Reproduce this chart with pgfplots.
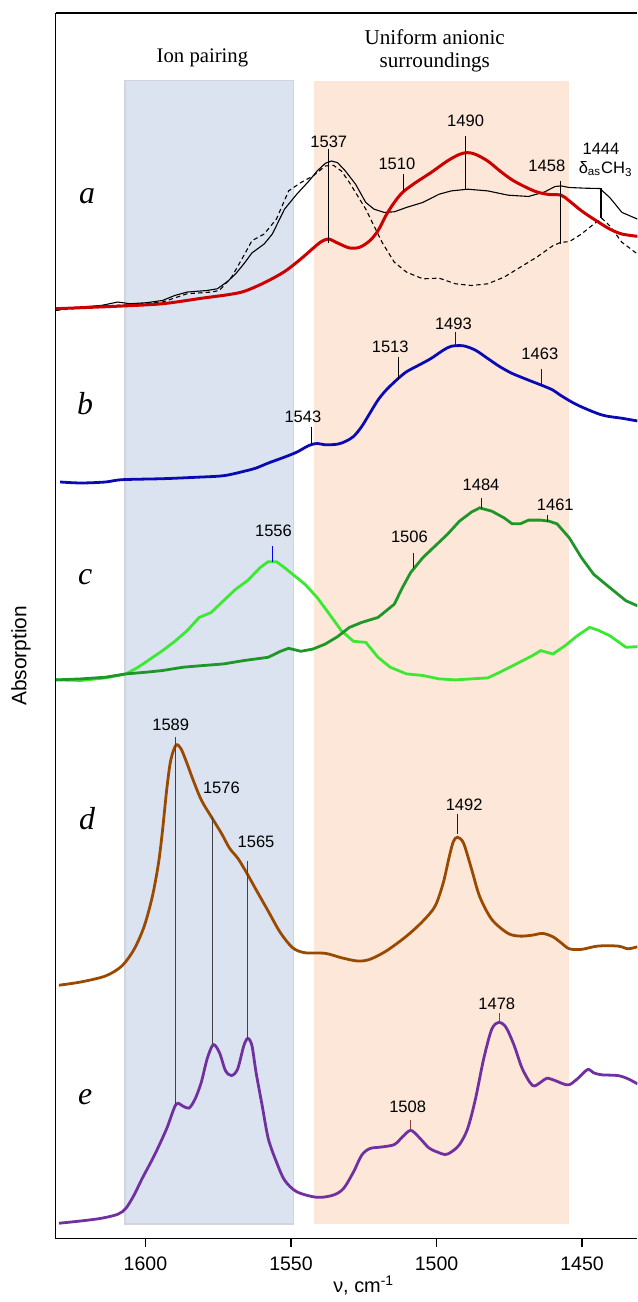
\documentclass[border=0pt]{standalone}
\usepackage{fontspec}
\setmainfont{Liberation Sans}
\newfontfamily\serif{Liberation Serif}
\usepackage{pgfplots}
\pgfplotsset{compat=1.18}

\definecolor{boxblue}{RGB}{218,227,239}
\definecolor{boxblueedge}{RGB}{210,214,220}
\definecolor{boxorange}{RGB}{252,231,217}
\definecolor{cred}{RGB}{204,0,0}
\definecolor{cblue}{RGB}{10,10,180}
\definecolor{clgreen}{RGB}{60,232,50}
\definecolor{cdgreen}{RGB}{30,150,40}
\definecolor{cbrown}{RGB}{154,74,0}
\definecolor{cpurple}{RGB}{112,48,160}
\definecolor{tickred}{RGB}{140,64,64}

\newcommand\pl{\fontsize{8.3}{9}\selectfont}
\newcommand\curvelbl{\serif\itshape\fontsize{16}{18}\selectfont}

\begin{document}
\begin{tikzpicture}
\begin{axis}[
    scale only axis,
    width=292pt, height=615.5pt,
    x dir=reverse,
    xmin=1431, xmax=1630.8,
    ymin=58, ymax=1289,
    axis x line*=bottom, axis y line*=left,
    axis line style={line width=0.6pt},
    xtick={1600,1550,1500,1450}, ytick=\empty,
    tick align=outside, major tick length=4pt,
    tick style={line width=0.6pt, black},
    ticklabel style={font=\fontsize{9.8}{11}\selectfont},
    xticklabel style={yshift=-1.5pt},
    /pgf/number format/assume math mode=true,
    /pgf/number format/1000 sep={},
    clip mode=individual,
]
% shaded regions
\addplot[fill=boxblue, draw=boxblueedge, line width=0.6pt] coordinates {
(1607,73) (1549,73) (1549,1221) (1607,1221)} --cycle;
\addplot[fill=boxorange, draw=none] coordinates {
(1542.2,73) (1454.4,73) (1454.4,1221) (1542.2,1221)} --cycle;

% ---- a ----
\addplot[black, line width=0.55pt, dashed, dash pattern=on 2.2pt off 1.6pt] coordinates {
(1630.7,990.3) (1615.1,994.7) (1605.3,996) (1594.1,998.7) (1585.7,1007)
(1577.4,1008.7) (1574.6,1010.3) (1570.4,1023.7) (1566.2,1045.3) (1563.4,1060.3)
(1559.2,1067) (1555.0,1082) (1550.8,1110.3) (1546.6,1118.7) (1542.4,1125.3)
(1538.2,1135.3) (1535.4,1136) (1532.7,1130.3) (1529.9,1118.7) (1527.1,1105.3)
(1524.3,1092) (1521.5,1075.3) (1518.7,1058.7) (1514.5,1038.7) (1510.3,1028.7)
(1504.7,1022) (1499.1,1022.7) (1493.5,1017) (1487.9,1015.3) (1482.4,1017)
(1476.8,1023.7) (1471.2,1033.7) (1465.6,1043.7) (1460.0,1055.3) (1457.2,1058.7)
(1454.4,1059.3) (1450.2,1067) (1446.0,1077) (1443.2,1082.7) (1440.5,1075.3)
(1436.3,1058.7) (1431.0,1047)};
\addplot[black, line width=0.55pt] coordinates {
(1630.7,992) (1622.1,993.7) (1615.1,995.3) (1609.5,998.7) (1605.3,997)
(1599.7,998) (1594.1,1000.3) (1589.9,1005.3) (1585.7,1008.7) (1578.8,1010.3)
(1575.3,1012) (1571.8,1019.3) (1569.0,1027) (1566.2,1037) (1563.4,1048)
(1559.2,1057) (1556.4,1067) (1552.2,1092) (1548.0,1107) (1543.8,1120.3)
(1541.0,1130.3) (1538.2,1138) (1536.1,1140.3) (1534.0,1138.7) (1531.3,1130.3)
(1527.8,1117) (1524.3,1098.7) (1521.5,1092) (1518.0,1088.7) (1514.5,1089.3)
(1510.3,1093.7) (1504.7,1098.7) (1499.1,1107) (1494.9,1110.3) (1489.3,1112)
(1482.4,1110.3) (1475.4,1106) (1468.4,1104.7) (1462.8,1109.3) (1459.3,1114.7)
(1457.2,1115.3) (1454.4,1113.7) (1448.8,1113) (1443.9,1112.7) (1440.5,1103.7)
(1436.3,1088.7) (1431.0,1082)};
\addplot[cred, line width=1.5pt, smooth] coordinates {
(1630.7,992) (1622.1,993) (1608.1,994.7) (1594.1,997) (1580.2,1002.7)
(1571.8,1006) (1566.2,1009.3) (1559.2,1018) (1552.2,1029.3) (1546.6,1042)
(1542.4,1052.7) (1539.6,1059.3) (1537.1,1062) (1534.0,1058) (1529.9,1053)
(1526.4,1053.7) (1522.9,1060.3) (1520.1,1070.3) (1517.3,1086) (1514.5,1098.7)
(1511.7,1108.7) (1507.5,1118) (1501.9,1128.7) (1496.3,1140.3) (1492.1,1147)
(1489.3,1148.7) (1486.6,1147) (1482.4,1140.3) (1478.2,1130.3) (1474.0,1121.3)
(1469.8,1114.7) (1465.6,1109.3) (1461.4,1106.7) (1457.2,1106) (1454.4,1100.3)
(1450.2,1090.3) (1446.0,1082) (1440.5,1072) (1436.3,1067) (1431.0,1064.7)};

% ---- b ----
\addplot[cblue, line width=1.4pt, smooth] coordinates {
(1629.3,818) (1622.1,817) (1613.7,818) (1608.1,820.3) (1594.1,821.3)
(1582.9,822.7) (1573.2,824.3) (1566.2,828.7) (1562.0,832) (1557.8,837)
(1552.2,843) (1548.0,848) (1543.8,854.7) (1541.0,856.7) (1538.2,855.3)
(1534.0,856) (1531.3,858.7) (1528.5,863.7) (1525.7,873.7) (1522.9,887)
(1520.1,900.3) (1517.3,910.3) (1513.4,921.3) (1510.3,928.7) (1506.1,935.3)
(1501.9,942) (1497.7,950.3) (1494.9,954.3) (1490.7,954.7) (1486.6,950.3)
(1482.4,942) (1478.2,933.7) (1474.0,927) (1468.4,920.3) (1463.5,914.7)
(1460.0,910.3) (1457.2,904.7) (1451.6,895.3) (1443.2,885.3) (1436.3,882)
(1431.0,879.3)};

% ---- c ----
\addplot[clgreen, line width=1.4pt] coordinates {
(1630.7,619.3) (1622.1,618.7) (1613.7,621.3) (1606.7,625.3) (1602.5,632)
(1598.3,640.3) (1594.1,648.7) (1589.9,658) (1585.7,668.7) (1581.5,682)
(1577.4,687) (1573.2,698.7) (1569.0,710.3) (1564.8,719.3) (1560.6,732)
(1557.8,738) (1555.0,738) (1552.2,732) (1549.4,725.3) (1545.2,715.3)
(1541.0,702) (1536.8,685.3) (1532.7,668.7) (1528.5,658) (1524.3,657)
(1520.1,642) (1515.9,632) (1510.3,625.3) (1504.7,623.7) (1499.1,620.3)
(1493.5,619.3) (1487.9,620.3) (1482.4,621.3) (1478.2,627) (1472.6,635.3)
(1467.0,643.7) (1464.2,648.7) (1460.0,645.3) (1455.8,653.7) (1451.6,663.7)
(1447.4,672) (1444.6,669.3) (1440.5,663.7) (1434.9,652) (1431.0,652.7)};
\addplot[cdgreen, line width=1.4pt] coordinates {
(1630.7,619.3) (1622.1,620.3) (1613.7,622) (1606.7,625.3) (1599.7,627)
(1594.1,628.7) (1587.1,632) (1580.2,633.7) (1573.2,635.3) (1566.2,638.7)
(1557.8,642) (1553.6,648) (1550.8,651) (1546.6,648) (1542.4,650.3)
(1538.2,655.3) (1534.0,662.7) (1529.9,672) (1525.7,677) (1520.1,682)
(1514.5,695.3) (1511.7,712) (1508.9,727) (1504.7,742) (1500.5,753.7)
(1496.3,765.3) (1492.1,778.7) (1487.9,788) (1485.2,792) (1481.0,788.7)
(1476.8,782) (1474.0,776) (1471.2,776) (1468.4,779.7) (1464.2,779.7)
(1461.4,778.7) (1458.6,776) (1454.4,762) (1450.2,742) (1446.0,725.3)
(1440.5,712) (1434.9,698.7) (1431.0,693.7)};

% ---- d ----
\addplot[cbrown, line width=1.4pt, smooth] coordinates {
(1629.7,312.7) (1622.1,316) (1613.7,322) (1608.1,332) (1603.9,348.7)
(1600.4,372) (1597.6,402) (1595.5,435.3) (1594.1,468.7) (1592.7,508.7)
(1591.3,538.7) (1589.5,553.7) (1587.8,550.3) (1585.7,535.3) (1583.6,518.7)
(1580.8,498.7) (1577.4,482) (1573.9,465.3) (1571.1,450.3) (1568.3,440.3)
(1565.5,427) (1562.0,408.7) (1557.8,387) (1553.6,365.3) (1549.4,350.3)
(1545.2,345.3) (1538.2,344.7) (1532.7,340.3) (1527.1,337) (1522.9,338.7)
(1517.3,347) (1510.3,362) (1504.7,377) (1500.5,392) (1497.7,415.3)
(1495.6,442) (1494.2,457) (1492.8,461.3) (1490.7,455.3) (1487.9,428.7)
(1485.2,402) (1481.0,378.7) (1475.4,364.7) (1471.2,362) (1467.0,363)
(1463.5,364.7) (1460.0,361.3) (1457.2,355.3) (1454.4,349.3) (1450.2,348.7)
(1444.6,352) (1437.7,352) (1434.2,349.3) (1431.0,351.3)};

% ---- e ----
\addplot[cpurple, line width=1.4pt, smooth] coordinates {
(1629.7,73.7) (1622.1,76) (1615.1,78.7) (1609.5,82.7) (1606.7,88.7)
(1603.9,102) (1601.1,118.7) (1596.9,142) (1592.7,168.7) (1589.5,193)
(1587.1,191.3) (1585.0,189.3) (1582.9,198.7) (1580.8,215.3) (1578.8,238.7)
(1576.7,253) (1574.6,245.3) (1572.5,227) (1570.4,222) (1568.3,228.7)
(1566.2,252) (1564.8,259.3) (1563.4,252) (1562.0,225.3) (1559.9,192)
(1557.8,158.7) (1555.0,135.3) (1552.2,117) (1548.0,105.3) (1541.0,99.7)
(1535.4,102) (1531.9,108.7) (1528.5,125.3) (1525.7,142) (1522.9,148.7)
(1518.7,150.3) (1514.5,152.7) (1511.7,160.3) (1508.9,167) (1506.1,160.3)
(1502.6,149.3) (1499.8,145.3) (1497.0,142.7) (1494.9,145.3) (1492.1,152.7)
(1489.3,168.7) (1486.6,198.7) (1483.8,238.7) (1481.0,268.7) (1478.5,275.3)
(1476.1,270.3) (1473.3,252) (1470.5,228.7) (1467.0,212) (1464.2,215.3)
(1462.1,219.3) (1459.3,217) (1456.5,213.7) (1454.4,212.7) (1451.6,218.7)
(1448.1,228) (1446.0,224.7) (1443.2,222.7) (1437.7,222) (1434.2,218.7)
(1431.0,213.7)};

% ---- peak marker lines ----
\addplot[black, line width=0.6pt] coordinates {(1537.1,1152.7) (1537.1,1058)};
\addplot[black, line width=0.6pt] coordinates {(1511.3,1127) (1511.3,1109.3)};
\addplot[black, line width=0.6pt] coordinates {(1490.0,1165.3) (1490.0,1112)};
\addplot[black, line width=0.6pt] coordinates {(1457.4,1120.3) (1457.4,1057)};
\addplot[black, line width=0.6pt] coordinates {(1443.5,1113) (1443.5,1082.7)};
\addplot[black, line width=0.6pt] coordinates {(1543.0,873.7) (1543.0,855.3)};
\addplot[black, line width=0.6pt] coordinates {(1513.1,943.7) (1513.1,920.3)};
\addplot[blue, line width=0.5pt] coordinates {(1493.5,968.7) (1493.5,954.7)};
\addplot[blue, line width=0.5pt] coordinates {(1463.8,931) (1463.8,914.7)};
\addplot[blue, line width=0.5pt] coordinates {(1556.4,753.7) (1556.4,738)};
\addplot[blue, line width=0.5pt] coordinates {(1507.9,746.3) (1507.9,731.3)};
\addplot[blue, line width=0.5pt] coordinates {(1484.7,802) (1484.7,791.3)};
\addplot[blue, line width=0.5pt] coordinates {(1461.7,785.3) (1461.7,777.7)};
\addplot[blue, line width=0.6pt] coordinates {(1492.8,484.3) (1492.8,464.7)};
\addplot[black!75, line width=0.5pt] coordinates {(1589.5,562) (1589.5,193.7)};
\addplot[black!75, line width=0.5pt] coordinates {(1576.9,482) (1576.9,253.7)};
\addplot[black!75, line width=0.5pt] coordinates {(1565.1,437.7) (1565.1,258.7)};
\addplot[tickred, line width=0.5pt] coordinates {(1508.9,177) (1508.9,168)};
\addplot[tickred, line width=0.5pt] coordinates {(1478.5,284.7) (1478.5,276)};

% ---- texts ----
\node[font=\serif\fontsize{10.4}{12}\selectfont] at (axis cs:1580.4,1244) {Ion pairing};
\node[font=\serif\fontsize{10.6}{11.7}\selectfont, align=center] at (axis cs:1500.6,1251) {Uniform anionic\\surroundings};

\node[font=\curvelbl] at (axis cs:1620,1104.7) {a};
\node[font=\curvelbl] at (axis cs:1620.7,897) {b};
\node[font=\curvelbl] at (axis cs:1620.7,722) {c};
\node[font=\curvelbl] at (axis cs:1620,480.3) {d};
\node[font=\curvelbl] at (axis cs:1620.7,200.3) {e};

\node[font=\pl, inner sep=0pt] at (axis cs:1537,1160) {1537};
\node[font=\pl, inner sep=0pt] at (axis cs:1513.6,1137) {1510};
\node[font=\pl, inner sep=0pt] at (axis cs:1490,1180.3) {1490};
\node[font=\pl, inner sep=0pt] at (axis cs:1462.1,1135.3) {1458};
\node[font=\pl, inner sep=0pt] at (axis cs:1443.5,1152.7) {1444};
\node[font=\pl, inner sep=0pt] at (axis cs:1441.9,1132) {δ\textsubscript{as}CH\textsubscript{3}};

\node[font=\pl, inner sep=0pt] at (axis cs:1545.9,883.7) {1543};
\node[font=\pl, inner sep=0pt] at (axis cs:1515.9,953.7) {1513};
\node[font=\pl, inner sep=0pt] at (axis cs:1494.2,977) {1493};
\node[font=\pl, inner sep=0pt] at (axis cs:1464.5,947) {1463};

\node[font=\pl, inner sep=0pt] at (axis cs:1556,768.7) {1556};
\node[font=\pl, inner sep=0pt] at (axis cs:1509.3,763) {1506};
\node[font=\pl, inner sep=0pt] at (axis cs:1484.7,815.3) {1484};
\node[font=\pl, inner sep=0pt] at (axis cs:1459.2,795.3) {1461};

\node[font=\pl, inner sep=0pt] at (axis cs:1591.3,573.7) {1589};
\node[font=\pl, inner sep=0pt] at (axis cs:1573.9,511) {1576};
\node[font=\pl, inner sep=0pt] at (axis cs:1562.0,456.3) {1565};
\node[font=\pl, inner sep=0pt] at (axis cs:1490.5,493.7) {1492};

\node[font=\pl, inner sep=0pt] at (axis cs:1509.9,190.3) {1508};
\node[font=\pl, inner sep=0pt] at (axis cs:1479.3,293.7) {1478};

% axis labels
\node[rotate=90, font=\fontsize{10.5}{12}\selectfont] at ([xshift=-17.5pt]rel axis cs:0,0.4756) {Absorption};
\node[font=\fontsize{10}{12}\selectfont] at ([yshift=-23.5pt]axis cs:1525,58) {ν, cm\textsuperscript{-1}};

% top frame line
\draw[line width=0.6pt] (rel axis cs:0,1) -- (rel axis cs:1,1);
\end{axis}
\path (current axis.south west) ++(-28pt,-29pt);
\path (current axis.north east) ++(0pt,6.5pt);
\end{tikzpicture}
\end{document}
